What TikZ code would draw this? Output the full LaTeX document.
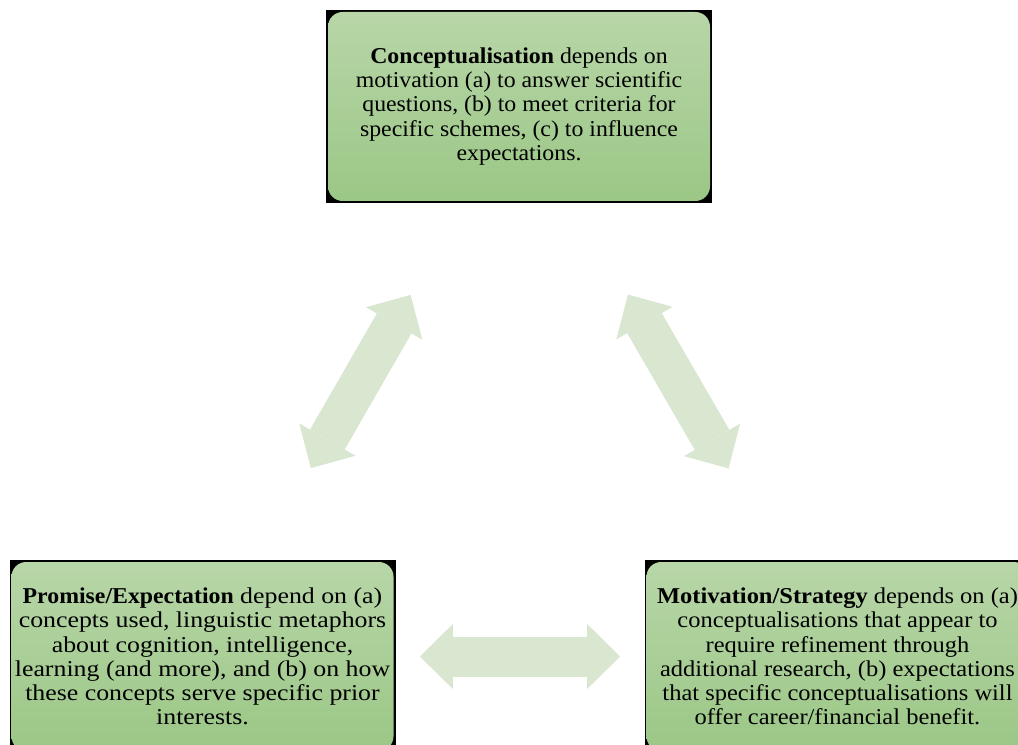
\documentclass[tikz,border=0pt]{standalone}
\usepackage{fontspec}
\setmainfont{Liberation Serif}
% the box texts run a little wider than the plain face
\newfontfamily\conceptfont[FakeStretch=1.05]{Liberation Serif}
\newfontfamily\promisefont[FakeStretch=1.14]{Liberation Serif}
\newfontfamily\motivefont[FakeStretch=1.08]{Liberation Serif}
\usetikzlibrary{positioning,arrows.meta,backgrounds}

\definecolor{boxtop}{RGB}{184,214,168}
\definecolor{boxbottom}{RGB}{155,199,134}
\definecolor{linkfill}{RGB}{217,231,209}

\begin{document}
\begin{tikzpicture}[
  x=0.75pt, y=-0.75pt,
  box/.style={rounded corners=11pt, top color=boxtop, bottom color=boxbottom,
    align=center, inner sep=0pt, outer sep=0pt,
    minimum width=286.5pt, minimum height=141.75pt},
  link/.style={line width=30pt, draw=linkfill,
    {Triangle[length=24.75pt,width=48.75pt,line width=0pt]}-{Triangle[length=24.75pt,width=48.75pt,line width=0pt]},
    shorten <=163pt, shorten >=163pt}
]
\useasboundingbox (0,0) rectangle (1018,745);
\clip (0,0) rectangle (1018,745);

\node[box, font=\conceptfont\fontsize{17}{18.3}\selectfont] (concept) at (519,106.5)
  {\textbf{Conceptualisation} depends on\\motivation (a) to answer scientific\\questions, (b) to meet criteria for\\specific schemes, (c) to influence\\expectations.};

\node[box, font=\promisefont\fontsize{17}{18.2}\selectfont] (promise) at (202.5,656.5)
  {{\conceptfont\bfseries Promise/Expectation} depend on (a)\\concepts used, linguistic metaphors\\about cognition, intelligence,\\learning (and more), and (b) on how\\these concepts serve specific prior\\interests.};

\node[box, font=\motivefont\fontsize{17}{18.2}\selectfont] (motive) at (837.5,656.5)
  {\textbf{Motivation/Strategy} depends on (a)\\conceptualisations that appear to\\require refinement through\\additional research, (b) expectations\\that specific conceptualisations will\\offer career/financial benefit.};

% black frames behind the boxes
\begin{scope}[on background layer]
  \clip (0,0) rectangle (1018,745);
  \foreach \n in {concept,promise,motive}
    \fill[black] ([xshift=-1.5pt,yshift=-1.5pt]\n.south west) rectangle ([xshift=1.5pt,yshift=1.5pt]\n.north east);
\end{scope}

\draw[link] (concept.center) -- (promise.center);
\draw[link] (concept.center) -- (motive.center);
\draw[link] (promise.center) -- (motive.center);
\end{tikzpicture}
\end{document}
